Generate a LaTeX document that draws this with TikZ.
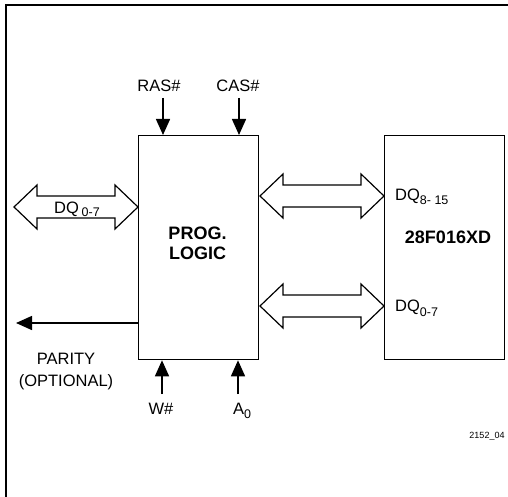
\documentclass[tikz,border=0pt]{standalone}
\usepackage{fontspec}
\setmainfont{Liberation Sans}
\usetikzlibrary{arrows.meta}
\newcommand{\sbs}[2][5pt]{{\fontsize{12.5}{14}\selectfont\raisebox{-#1}{#2}}}
\begin{document}
\begin{tikzpicture}[x=1pt,y=-1pt,
  blk/.style={draw, line width=1.3pt, inner sep=0pt},
  sig/.style={line width=1.5pt, -{Triangle[width=14pt,length=16pt]}},
  fat/.style={draw, line width=1.2pt, fill=white},
  lbl/.style={font=\fontsize{16.5}{18}\selectfont, inner sep=0pt},
  blbl/.style={font=\fontsize{18}{20}\selectfont\bfseries, inner sep=0pt}]
\useasboundingbox (0,0) rectangle (508,497);
% frame
\draw[line width=2pt] (6,497) -- (6,5) -- (508,5);
% boxes
\node[blk, minimum width=120pt, minimum height=224pt, anchor=north west] (pl) at (138,135) {};
\node[blk, minimum width=120pt, minimum height=224pt, anchor=north west] (fx) at (384,135) {};
\node[blbl, anchor=base] (plt1) at (197.5,239) {PROG.};
\node[blbl, anchor=base] (plt2) at (197.5,259) {LOGIC};
\node[blbl, anchor=base] (fxt) at (448,243.5) {28F016XD};
% fat double arrows
\newcommand{\fatarrow}[3]{%
  \draw[fat] (#1,#3) -- (#1+23,#3-22) -- (#1+23,#3-11) -- (#2-23,#3-11) -- (#2-23,#3-22) -- (#2,#3)
    -- (#2-23,#3+22) -- (#2-23,#3+11) -- (#1+23,#3+11) -- (#1+23,#3+22) -- cycle;}
\fatarrow{14}{138}{207}
\fatarrow{260}{384}{196}
\fatarrow{260}{384}{306}
\node[lbl, anchor=base west] (dql) at (54,213) {DQ\,\sbs[3pt]{0-7}};
\node[lbl, anchor=base west] (dqh) at (395,200) {DQ\sbs{8- 15}};
\node[lbl, anchor=base west] (dqr) at (395,311) {DQ\sbs{0-7}};
% control signals
\node[lbl, anchor=base] (ras) at (159,92) {RAS\#};
\node[lbl, anchor=base] (cas) at (238,92) {CAS\#};
\node[lbl, anchor=base] (w) at (161,414) {W\#};
\node[lbl, anchor=base] (a0) at (242,414) {A\sbs[4pt]{0}};
\coordinate (rasS) at (163,98);
\coordinate (casS) at (239,98);
\coordinate (wS) at (162,394);
\coordinate (aS) at (238,394);
\draw[sig] (rasS) -- (rasS |- pl.north);
\draw[sig] (casS) -- (casS |- pl.north);
\draw[sig] (wS) -- (wS |- pl.south);
\draw[sig] (aS) -- (aS |- pl.south);
% parity
\coordinate (par) at (16,323);
\draw[sig] (pl.west |- par) -- (par);
\node[lbl, anchor=base] (part1) at (66,364) {PARITY};
\node[lbl, anchor=base] (part2) at (66,386) {(OPTIONAL)};
\node[inner sep=0pt, anchor=base, font=\fontsize{9}{10}\selectfont] (fig) at (487,438) {2152\_04};
\end{tikzpicture}
\end{document}
